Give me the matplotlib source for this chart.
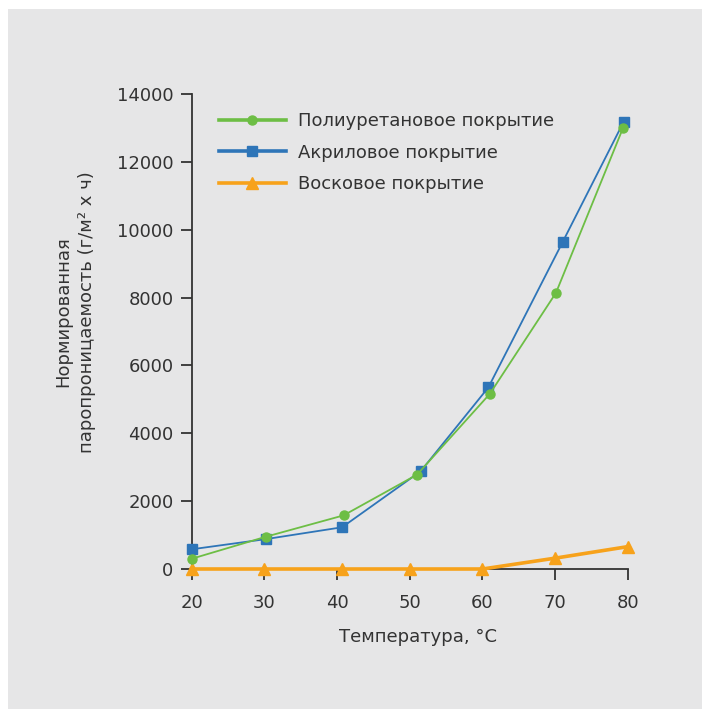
import matplotlib
matplotlib.use("Agg")
import matplotlib.pyplot as plt
from matplotlib.patches import Rectangle
from matplotlib.lines import Line2D

plt.rcParams['font.family'] = ['DejaVu Sans']

temp_pu = [20, 30.2, 40.9, 51.0, 61.0, 70.1, 79.3]
val_pu = [300, 950, 1580, 2780, 5160, 8140, 12990]
temp_ac = [20, 30.2, 40.7, 51.5, 60.8, 71.0, 79.4]
val_ac = [580, 880, 1230, 2880, 5350, 9630, 13180]
temp_wx = [20, 30, 40.7, 50, 60, 70, 80]
val_wx = [0, 0, 0, 0, 0, 320, 660]

labels = ["Полиуретановое покрытие", "Акриловое покрытие", "Восковое покрытие"]
xticks = [20, 30, 40, 50, 60, 70, 80]
yticks = [0, 2000, 4000, 6000, 8000, 10000, 12000, 14000]

BG = '#e6e6e7'
TXT = '#333333'
GREEN = '#6dbe45'
BLUE = '#2e75b8'
ORANGE = '#f7a21b'
FS = 13
W, H = 702, 709
fig = plt.figure(figsize=(W/100, H/100), dpi=100, facecolor='white')
fig.patches.append(Rectangle((8/W, 0), 1, 1 - 9/H, transform=fig.transFigure,
                             facecolor=BG, edgecolor='none', zorder=-10))

ax = fig.add_axes([191.5/W, 1 - 569/H, (628 - 191.5)/W, (569 - 94)/H])
ax.set_facecolor('none')

ax.plot(temp_wx, val_wx, color=ORANGE, lw=2.6, marker='^', ms=8, clip_on=False, zorder=3)
ax.plot(temp_ac, val_ac, color=BLUE, lw=1.3, marker='s', ms=7.5, clip_on=False, zorder=4)
ax.plot(temp_pu, val_pu, color=GREEN, lw=1.3, marker='o', ms=6.5, clip_on=False, zorder=5)

ax.set_xlim(20, 80)
ax.set_ylim(0, 14000)
ax.set_xticks(xticks)
ax.set_yticks(yticks)
for s in ['top', 'right']:
    ax.spines[s].set_visible(False)
for s in ['left', 'bottom']:
    ax.spines[s].set_color(TXT)
    ax.spines[s].set_linewidth(1.3)
ax.tick_params(axis='both', colors=TXT, labelcolor=TXT, labelsize=FS, width=1.3, length=8, direction='out')
ax.tick_params(axis='x', pad=10)
ax.tick_params(axis='y', pad=5)

handles = [
    Line2D([], [], color=GREEN, lw=2.6, marker='o', ms=6.5),
    Line2D([], [], color=BLUE, lw=2.6, marker='s', ms=7.5),
    Line2D([], [], color=ORANGE, lw=2.6, marker='^', ms=8),
]
leg = ax.legend(handles, labels, loc='upper left', bbox_to_anchor=(210/W, 1 - 103/H),
                bbox_transform=fig.transFigure, frameon=False, fontsize=FS,
                handlelength=3.7, handletextpad=0.7, labelspacing=0.76, borderpad=0)
for t in leg.get_texts():
    t.set_color(TXT)

fig.text(418/W, 1 - 637/H, "Температура, °C", ha='center', va='center', fontsize=FS, color=TXT)
fig.text(75/W, 1 - 312/H, "Нормированная\nпаропроницаемость (г/м² х ч)", ha='center', va='center',
         rotation=90, fontsize=FS, color=TXT, linespacing=1.45)

fig.savefig('out.png', dpi=100, facecolor='white')
